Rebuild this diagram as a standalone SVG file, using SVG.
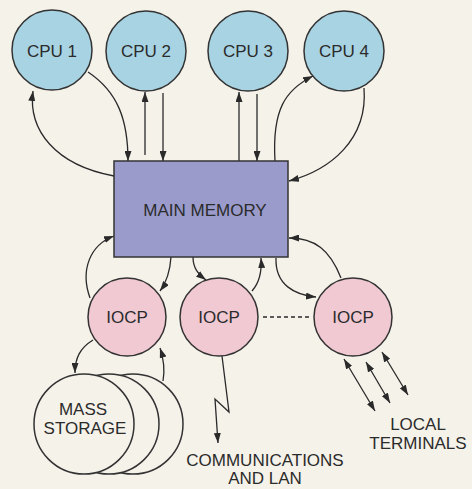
<svg xmlns="http://www.w3.org/2000/svg" width="472" height="489" viewBox="0 0 472 489">
<defs>
<marker id="ah" viewBox="0 0 10 7" refX="10" refY="3.5" markerWidth="10" markerHeight="7" markerUnits="userSpaceOnUse" orient="auto-start-reverse">
<path d="M0,0 L10,3.5 L0,7 z" fill="#2a2a2a"/>
</marker>
</defs>
<style>
.t{font-family:"Liberation Sans",Arial,sans-serif;font-size:17px;fill:#2b2b2b;text-anchor:middle}
.cpu{fill:#a8d3e3;stroke:#333;stroke-width:1.5}
.iocp{fill:#f0c9d3;stroke:#333;stroke-width:1.5}
.mem{fill:#9a9bcb;stroke:#333;stroke-width:1.5}
.ms{fill:#f5f2ea;stroke:#333;stroke-width:1.5}
.c{fill:none;stroke:#2a2a2a;stroke-width:1.3}
.a{marker-end:url(#ah)}
.d{marker-start:url(#ah);marker-end:url(#ah)}
</style>
<rect width="472" height="489" fill="#f5f2ea"/>
<g id="connectors">
<path class="c a" d="M88,72 C118,92 128,120 128,161"/>
<path class="c a" d="M114,176 C55,165 28,130 33,91"/>
<path class="c a" d="M145,155 L145,92"/>
<path class="c a" d="M163,93 L163,161"/>
<path class="c a" d="M239,161 L239,92"/>
<path class="c a" d="M257,94 L257,161"/>
<path class="c a" d="M275,161 C272,110 285,90 313,76"/>
<path class="c a" d="M364,88 C368,140 330,170 289,181"/>
<path class="c a" d="M341,278 C330,250 315,238 289,238"/>
<path class="c a" d="M276,258 C275,285 295,295 316,297"/>
<path class="c a" d="M193,257 C193,268 198,274 206,280"/>
<path class="c a" d="M252,291 C260,282 262,272 261,258"/>
<path class="c a" d="M171,257 C170,272 166,283 160,291"/>
<path class="c a" d="M90,298 C80,270 90,245 114,236"/>
<path class="c a" d="M93,340 C80,348 75,358 75,373"/>
<path class="c a" d="M163,381 C165,370 164,360 160,348"/>
<path class="c a" d="M222,356 L229,412 L215,399 L218,443"/>
<path class="c" d="M263,317 L310,317" stroke-dasharray="4,3"/>
<path class="c d" d="M344,359 L375,411"/>
<path class="c d" d="M366,362 L390,403"/>
<path class="c d" d="M382,352 L408,395"/>
</g>
<g id="cpu1"><circle class="cpu" cx="52" cy="50" r="40"/><text class="t" x="52" y="57">CPU 1</text></g>
<g id="cpu2"><circle class="cpu" cx="146" cy="51" r="40"/><text class="t" x="146" y="57">CPU 2</text></g>
<g id="cpu3"><circle class="cpu" cx="248" cy="51" r="40"/><text class="t" x="248" y="57">CPU 3</text></g>
<g id="cpu4"><circle class="cpu" cx="344" cy="51" r="40"/><text class="t" x="344" y="57">CPU 4</text></g>
<g id="main-memory"><rect class="mem" x="114" y="161" width="174" height="96"/><text class="t" x="205" y="216">MAIN MEMORY</text></g>
<g id="iocp1"><circle class="iocp" cx="127" cy="317" r="39"/><text class="t" x="127" y="323">IOCP</text></g>
<g id="iocp2"><circle class="iocp" cx="219" cy="317" r="39"/><text class="t" x="219" y="323">IOCP</text></g>
<g id="iocp3"><circle class="iocp" cx="353" cy="317" r="39"/><text class="t" x="353" y="323">IOCP</text></g>
<g id="mass-storage">
<circle class="ms" cx="133" cy="424" r="50"/>
<circle class="ms" cx="109" cy="424" r="50"/>
<circle class="ms" cx="84" cy="424" r="50"/>
<text class="t" x="83" y="415">MASS</text>
<text class="t" x="85" y="434">STORAGE</text>
</g>
<g id="communications"><text class="t" x="265" y="466">COMMUNICATIONS</text><text class="t" x="265" y="484">AND LAN</text></g>
<g id="local-terminals"><text class="t" x="418" y="430">LOCAL</text><text class="t" x="418" y="449">TERMINALS</text></g>
</svg>
